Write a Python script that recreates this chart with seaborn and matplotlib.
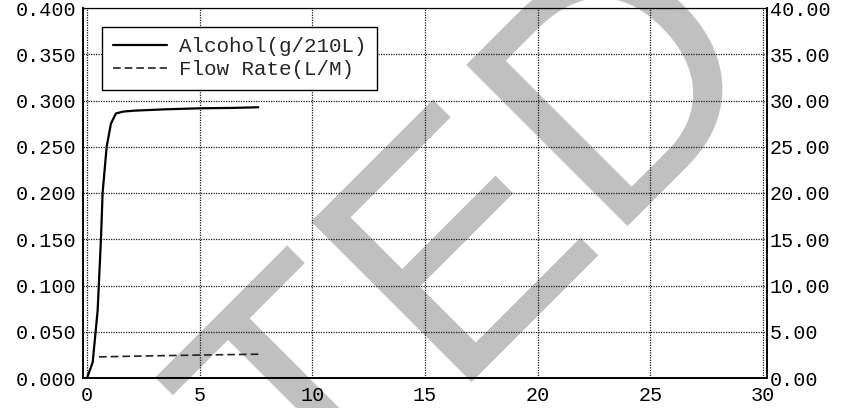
import seaborn as sns
import pandas as pd
import numpy as np
import matplotlib.pyplot as plt

# values
alc_time = [0.0, 0.25, 0.47, 0.62, 0.69, 0.87, 1.06, 1.28, 1.6, 2.08, 3.5, 5.04, 6.5, 7.6]
alc_value = [0.0, 0.017, 0.073, 0.152, 0.200, 0.250, 0.275, 0.286, 0.288, 0.289, 0.2905, 0.2916, 0.292, 0.2927]

flow_time = [0.53, 2.5, 5.0, 7.75]
flow_value = [2.28, 2.38, 2.48, 2.58]

x_ticks = [0, 5, 10, 15, 20, 25, 30]
left_ticks = [0.0, 0.05, 0.10, 0.15, 0.20, 0.25, 0.30, 0.35, 0.40]
right_ticks = [0, 5, 10, 15, 20, 25, 30, 35, 40]

alc = pd.DataFrame({"time": alc_time, "value": alc_value})
flow = pd.DataFrame({"time": flow_time, "value": flow_value})

sns.set_theme(style="white")
plt.rcParams['font.family'] = ['Liberation Mono', 'DejaVu Sans Mono']

fig = plt.figure(figsize=(8.5, 4.08), dpi=100)
ax = fig.add_axes([83 / 850, 1 - 378 / 408, 684 / 850, 370 / 408])
ax.patch.set_alpha(0)

# grey watermark letters behind everything
fig.text(308 / 850, 1 - 538 / 408, "TED", rotation=45, rotation_mode='anchor',
         ha='left', va='baseline', fontsize=238, family='Liberation Sans',
         color='#c0c0c0', zorder=-1)

sns.lineplot(data=alc, x="time", y="value", ax=ax, color='black', lw=1.6,
             sort=False, estimator=None)
ax2 = ax.twinx()
sns.lineplot(data=flow, x="time", y="value", ax=ax2, color='#222222', lw=1.2,
             sort=False, estimator=None)
ax2.lines[0].set_linestyle((0, (4.6, 2.4)))

ax.set_xlim(-0.18, 30.18)
ax.set_ylim(0, 0.4)
ax2.set_ylim(0, 40)
ax.set_xticks(x_ticks)
ax.set_yticks(left_ticks)
ax.set_yticklabels([f"{v:.3f}" for v in left_ticks])
ax2.set_yticks(right_ticks)
ax2.set_yticklabels([f"{v:.2f}" for v in right_ticks])
ax.set_xlabel("")
ax.set_ylabel("")
ax2.set_ylabel("")

ax.grid(True, color='#1a1a1a', lw=0.9, linestyle=(0, (1, 1)))
ax2.grid(False)
ax.tick_params(axis='both', length=0, labelsize=14.5, colors='black')
ax.tick_params(axis='y', pad=5)
ax.tick_params(axis='x', pad=6)
ax2.tick_params(axis='y', length=0, labelsize=14.5, colors='black', pad=2)

for a in (ax, ax2):
    for s in a.spines.values():
        s.set_color('black')
        s.set_linewidth(1.2)
ax.spines['top'].set_linewidth(0.8)
ax2.spines['top'].set_linewidth(0.8)

leg = ax.legend([ax.lines[0], ax2.lines[0]], ["Alcohol(g/210L)", "Flow Rate(L/M)"],
                loc='upper left', bbox_to_anchor=(0.028, 0.949), borderaxespad=0,
                fontsize=15, handlelength=2.6, handletextpad=0.6,
                labelspacing=0.2, borderpad=0.5, fancybox=False, framealpha=1)
leg.get_frame().set_edgecolor('black')
leg.get_frame().set_linewidth(1.0)

fig.savefig("out.png", dpi=100)
